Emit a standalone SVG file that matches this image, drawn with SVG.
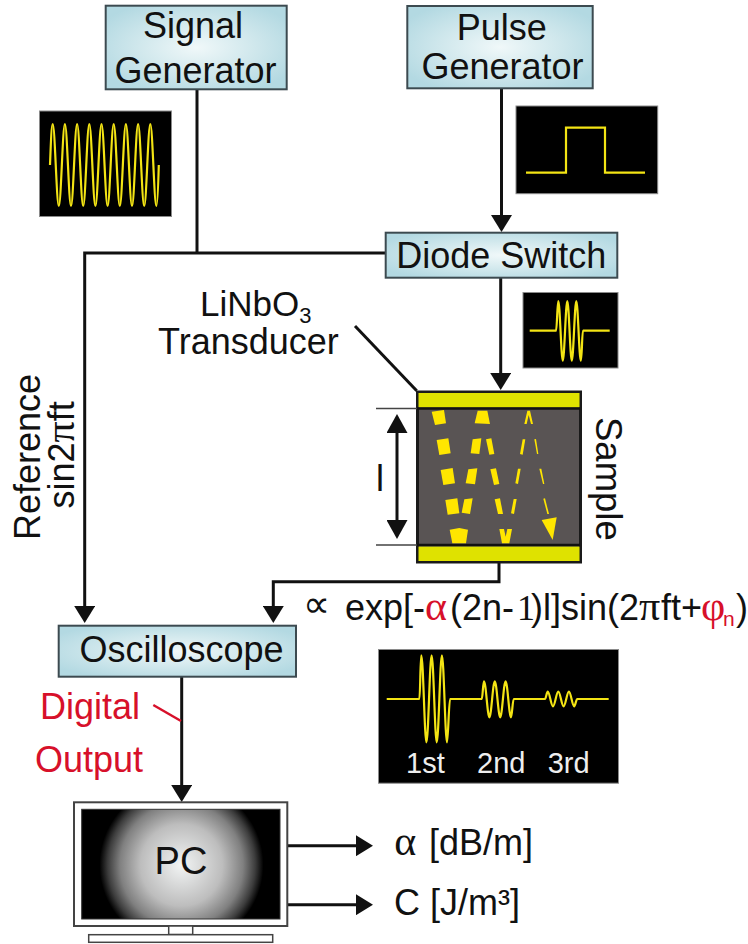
<svg xmlns="http://www.w3.org/2000/svg" width="748" height="944" viewBox="0 0 748 944">
<style>
text{font-family:"Liberation Sans",Arial,sans-serif;font-size:36px;fill:#111}
.serif{font-family:"Liberation Serif","DejaVu Serif",serif}
.sym{font-family:"Liberation Serif","DejaVu Serif",serif;font-size:42px}
.red{fill:#d7102a}
.box{fill:url(#boxFill);stroke:#3c4a50;stroke-width:2}
.scope{fill:#000;stroke:#8a8a8a;stroke-width:1}
.wave{fill:none;stroke:#f3e414;stroke-width:2.2}
.conn{fill:none;stroke:#111;stroke-width:3}
.arr{marker-end:url(#head)}
.frag{fill:#ffe600}
</style>
<defs>
<radialGradient id="boxFill" cx="50%" cy="50%" r="60%">
<stop offset="0" stop-color="#f0f8f9"/><stop offset="0.55" stop-color="#cfe7ec"/><stop offset="1" stop-color="#b3d9e2"/>
</radialGradient>
<radialGradient id="screen" gradientUnits="userSpaceOnUse" cx="181.5" cy="865" r="82">
<stop offset="0" stop-color="#f2f4f4"/><stop offset="0.5" stop-color="#bdbdbd"/><stop offset="0.75" stop-color="#808080"/><stop offset="0.9" stop-color="#3c3c3c"/><stop offset="1" stop-color="#000"/>
</radialGradient>
<marker id="head" markerUnits="userSpaceOnUse" markerWidth="17" markerHeight="21" viewBox="0 0 17 21" refX="11" refY="10.5" orient="auto">
<path d="M0 0L17 10.5L0 21z" fill="#111"/>
</marker>
<marker id="headStart" markerUnits="userSpaceOnUse" markerWidth="19" markerHeight="21" viewBox="0 0 19 21" refX="13" refY="10.5" orient="auto-start-reverse">
<path d="M0 0L19 10.5L0 21z" fill="#111"/>
</marker>
</defs>
<rect width="748" height="944" fill="#fff"/>

<g id="connectors">
<path class="conn" d="M197 89V253"/>
<path class="conn arr" d="M386 253H84.7V617"/>
<path class="conn arr" d="M501.5 88V226"/>
<path class="conn arr" d="M500.7 278V384"/>
<path class="conn arr" d="M499 562V581.7H273.3V617"/>
<path class="conn arr" d="M181.7 677V796"/>
<path class="conn arr" d="M288 845.7H367"/>
<path class="conn arr" d="M288 904.7H367"/>
<path d="M355 326L416.7 390.7" class="conn"/>
<path d="M153.3 705L181 721" fill="none" stroke="#d7102a" stroke-width="2.5"/>
</g>

<g id="signal-generator">
<rect class="box" x="105.7" y="5.7" width="181" height="83.6"/>
<text x="193" y="38" text-anchor="middle">Signal</text>
<text x="195.5" y="83" text-anchor="middle">Generator</text>
</g>
<g id="pulse-generator">
<rect class="box" x="407.3" y="6" width="185.4" height="82.3"/>
<text x="501.7" y="39.5" text-anchor="middle">Pulse</text>
<text x="502.5" y="79" text-anchor="middle">Generator</text>
</g>
<g id="diode-switch">
<rect class="box" x="385.7" y="232.7" width="231.6" height="45"/>
<text x="501.3" y="267.7" text-anchor="middle">Diode Switch</text>
</g>
<g id="oscilloscope">
<rect class="box" x="58.7" y="625.7" width="237.3" height="51"/>
<text x="181.5" y="661.7" text-anchor="middle">Oscilloscope</text>
</g>

<g id="scope-sine">
<rect class="scope" x="39.5" y="111" width="132" height="105.5"/>
<path class="wave" d="M50 165C50.8 145 51.5 124 52.7 124c2.2 0 3.9 82 6.1 82c2.2 0 3.9-82 6.1-82c2.2 0 3.9 82 6.1 82c2.2 0 3.9-82 6.1-82c2.2 0 3.9 82 6.1 82c2.2 0 3.9-82 6.1-82c2.2 0 3.9 82 6.1 82c2.2 0 3.9-82 6.1-82c2.2 0 3.9 82 6.1 82c2.2 0 3.9-82 6.1-82c2.2 0 3.9 82 6.1 82c2.2 0 3.9-82 6.1-82c2.2 0 3.9 82 6.1 82c2.2 0 3.9-82 6.1-82c2.2 0 3.9 82 6.1 82c2.2 0 3.9-82 6.1-82c2.2 0 3.9 82 6.1 82c1 0 1.8-20 2.4-41"/>
</g>
<g id="scope-pulse">
<rect class="scope" x="516" y="106" width="141.7" height="87.7"/>
<path class="wave" d="M526 172.7H566V127.7H605V172.7H645"/>
</g>
<g id="scope-burst">
<rect class="scope" x="523" y="292.5" width="95" height="75.5"/>
<path class="wave" d="M529.7 330.7H556C557 330.7 557.3 301 558.3 301c1.6 0 2.9 59.7 4.5 59.7c1.6 0 2.9-59.7 4.5-59.7c1.6 0 2.9 59.7 4.5 59.7c1.6 0 2.9-59.7 4.5-59.7c1.6 0 2.9 59.7 4.5 59.7C582 360.7 582 330.7 583 330.7H609.7"/>
</g>
<g id="scope-echo">
<rect class="scope" x="378.5" y="649.5" width="240" height="133.7"/>
<path class="wave" d="M386.7 699H419.3C420.3 699 420.3 655.3 421.3 655.3c1.9 0 3.3 87 5.15 87c1.9 0 3.3-87 5.15-87c1.9 0 3.3 87 5.15 87c1.9 0 3.3-87 5.15-87c1.9 0 3.3 87 5.15 87c1 0 1.9-43.3 3-43.3H481.7C482.7 699 483 681.3 484 681.3c1.9 0 3.5 36 5.4 36c1.9 0 3.5-36 5.4-36c1.9 0 3.5 36 5.4 36c1.9 0 3.5-36 5.4-36c1.9 0 3.5 36 5.4 36c1 0 1.7-18.3 2.7-18.3H545C546 699 546.7 691.7 547.7 691.7c1.9 0 3.4 14.6 5.3 14.6c1.9 0 3.4-14.6 5.3-14.6c1.9 0 3.4 14.6 5.3 14.6c1.9 0 3.4-14.6 5.3-14.6c1.9 0 3.4 14.6 5.3 14.6c1 0 2-7.3 3-7.3H608.7"/>
<text x="406" y="773" style="font-size:29px;fill:#eee">1st</text>
<text x="477" y="773" style="font-size:29px;fill:#eee">2nd</text>
<text x="547.7" y="773" style="font-size:29px;fill:#eee">3rd</text>
</g>

<g id="sample">
<rect x="417.5" y="392" width="163" height="170" fill="#595454" stroke="#1a1a1a" stroke-width="3"/>
<rect x="418.5" y="393" width="161" height="14.5" fill="#dfe200"/>
<rect x="418.5" y="546.5" width="161" height="14.5" fill="#dfe200"/>
<path d="M417 408.5H580M417 545H580" stroke="#111" stroke-width="2.5"/>
<g transform="translate(400 380) scale(.33333)" class="frag">
<polygon points="95,95 132,90 138,130 105,135"/>
<polygon points="233,92 262,92 270,132 224,130"/>
<polygon points="373,132 382,92 390,92 399,132 393,132 386,105 380,132"/>
<polygon points="110,180 145,175 152,220 118,225"/>
<polygon points="212,220 218,178 244,175 238,222"/>
<polygon points="258,178 274,175 283,222 268,224"/>
<polygon points="360,222 368,178 376,178 368,224"/>
<polygon points="403,178 408,177 415,222 411,222"/>
<polygon points="122,270 158,264 165,310 130,315"/>
<polygon points="197,310 205,268 232,265 225,313"/>
<polygon points="271,268 288,265 298,312 282,315"/>
<polygon points="346,310 354,266 362,266 354,312"/>
<polygon points="418,266 424,266 433,312 429,312"/>
<polygon points="136,360 172,355 178,400 143,404"/>
<polygon points="185,398 193,358 218,355 210,402"/>
<polygon points="284,358 300,355 309,402 294,402"/>
<polygon points="333,400 341,357 350,357 342,402"/>
<polygon points="430,356 435,355 447,402 442,402"/>
<polygon points="149,449 178,444 204,449 198,490 157,490"/>
<polygon points="298,447 312,447 317,470 322,447 336,447 328,490 306,490"/>
<polygon points="425,420 470,412 458,480"/>
</g>
<path d="M376 408.5H417M376 545H417" stroke="#444" stroke-width="1.5"/>
<path class="conn" d="M397 420V533" style="marker-start:url(#headStart);marker-end:url(#headStart)"/>
<text x="376" y="491">l</text>
<text transform="translate(596 417) rotate(90)" style="font-size:36.5px">Sample</text>
</g>

<g id="labels">
<text x="200" y="316" style="font-size:35px">LiNbO<tspan dy="7" style="font-size:22px">3</tspan></text>
<text x="158" y="354">Transducer</text>
<text transform="translate(40 540) rotate(-90)">Reference</text>
<text transform="translate(74 508.5) rotate(-90)">sin2<tspan class="sym">π</tspan>ft</text>
<text x="303" y="617" style="font-family:'DejaVu Sans',sans-serif;font-size:38px">∝</text>
<text y="620"><tspan x="345">exp[-</tspan><tspan x="425" class="sym red">α</tspan><tspan x="450">(2n-</tspan><tspan x="517" class="serif">1</tspan><tspan x="531">)l]sin(2</tspan><tspan x="639" class="sym">π</tspan><tspan x="661">ft+</tspan><tspan x="701" class="sym red">φ</tspan><tspan x="723" dy="6" class="red" style="font-size:21px">n</tspan><tspan x="736" dy="-6">)</tspan></text>
<text class="red" x="40" y="719">Digital</text>
<text class="red" x="35" y="771.7">Output</text>
<text class="sym" x="394.3" y="855">α</text>
<text x="429" y="855">[dB/m]</text>
<text x="394" y="915">C [J/m³]</text>
</g>

<g id="pc">
<rect x="74" y="802.3" width="213.3" height="123.7" fill="#fff" stroke="#444" stroke-width="2"/>
<rect x="81.7" y="809.3" width="198.3" height="109.7" fill="url(#screen)" stroke="#333" stroke-width="1"/>
<rect x="168.7" y="926" width="24" height="8.5" fill="#fff" stroke="#444" stroke-width="1.5"/>
<rect x="88.7" y="934.7" width="184" height="7.6" fill="#fff" stroke="#444" stroke-width="1.5"/>
<text x="181" y="874.3" text-anchor="middle" style="font-size:38px">PC</text>
</g>
</svg>
